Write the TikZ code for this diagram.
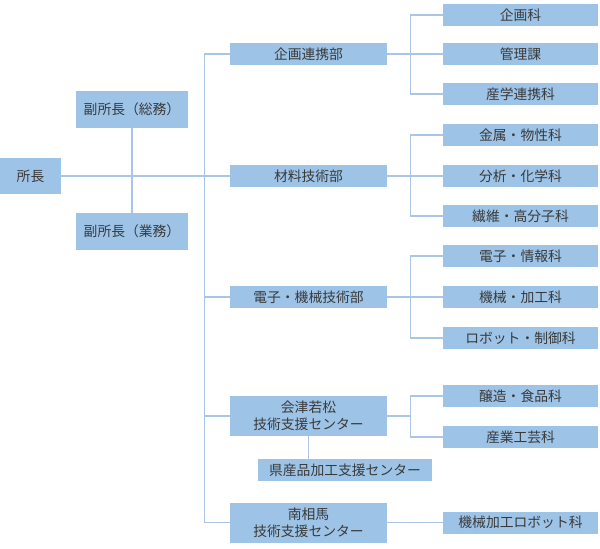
\documentclass[tikz,border=0pt]{standalone}
\usepackage{fontspec}
\newfontfamily\jp{Noto Sans CJK JP}
\definecolor{boxblue}{HTML}{9DC3E6}
\definecolor{linkblue}{HTML}{A9C6E4}
\definecolor{txt}{HTML}{3A3A3A}
\begin{document}
\begin{tikzpicture}[x=1pt,y=-1pt,
  box/.style={fill=boxblue,inner sep=0pt,text=txt,align=center,font=\jp\fontsize{13.8}{17}\selectfont},
  dept/.style={box,minimum width=157pt,minimum height=22pt},
  sect/.style={box,minimum width=155pt,minimum height=22pt},
  link/.style={draw=linkblue,line width=1.2pt}]
\useasboundingbox (0,0) rectangle (600,549);
% chief and deputies
\node[box,minimum width=61pt,minimum height=36pt] (chief) at (30.5,176) {所長};
\node[box,minimum width=112pt,minimum height=37pt] (vgen) at (132,109.5) {副所長（総務）};
\node[box,minimum width=112pt,minimum height=37pt] (vbus) at (132,231.5) {副所長（業務）};
% departments
\node[dept] (d1) at (308.5,54) {企画連携部};
\node[dept] (d2) at (308.5,176) {材料技術部};
\node[dept] (d3) at (308.5,297) {電子・機械技術部};
\node[dept,minimum height=40pt] (d4) at (308.5,416) {会津若松\\技術支援センター};
\node[dept,minimum height=40pt] (d5) at (308.5,522.5) {南相馬\\技術支援センター};
\node[box,minimum width=174pt,minimum height=22pt] (ken) at (345,470) {県産品加工支援センター};
% sections
\node[sect] (s1) at (520.5,15) {企画科};
\node[sect] (s2) at (520.5,54) {管理課};
\node[sect] (s3) at (520.5,94) {産学連携科};
\node[sect] (s4) at (520.5,135) {金属・物性科};
\node[sect] (s5) at (520.5,176) {分析・化学科};
\node[sect] (s6) at (520.5,216) {繊維・高分子科};
\node[sect] (s7) at (520.5,256) {電子・情報科};
\node[sect] (s8) at (520.5,297) {機械・加工科};
\node[sect] (s9) at (520.5,338) {ロボット・制御科};
\node[sect] (s10) at (520.5,396) {醸造・食品科};
\node[sect] (s11) at (520.5,437) {産業工芸科};
\node[sect] (s12) at (520.5,522.5) {機械加工ロボット科};
% connectors
\draw[link] (vgen.south) -- (vbus.north);
\draw[link] (chief.east) -- (d2.west);
\draw[link] (d1.west) -- ++(-25,0) |- (d5.west);
\draw[link] (d3.west) -- ++(-25,0);
\draw[link] (d4.west) -- ++(-25,0);
\draw[link] (d1.east) -- (s2.west);
\draw[link] (s1.west) -- ++(-32,0) |- (s3.west);
\draw[link] (d2.east) -- (s5.west);
\draw[link] (s4.west) -- ++(-32,0) |- (s6.west);
\draw[link] (d3.east) -- (s8.west);
\draw[link] (s7.west) -- ++(-32,0) |- (s9.west);
\draw[link] (d4.east) -- ++(24,0);
\draw[link] (s10.west) -- ++(-32,0) |- (s11.west);
\draw[link] (d4.south) -- (d4.south |- ken.north);
\draw[link] (d5.east) -- (s12.west);
\end{tikzpicture}
\end{document}
